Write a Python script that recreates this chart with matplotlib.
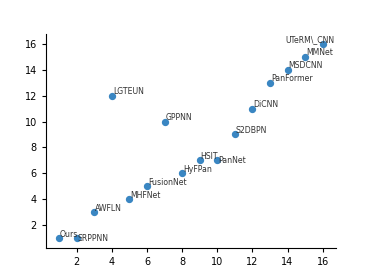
import matplotlib
matplotlib.use("Agg")
import matplotlib.pyplot as plt

names = ["Ours", "SRPPNN", "AWFLN", "LGTEUN", "MHFNet", "FusionNet", "GPPNN",
         "HyFPan", "HSIT", "PanNet", "S2DBPN", "DiCNN", "PanFormer", "MSDCNN",
         "MMNet", "UTeRM\\_CNN"]
xs = [1, 2, 3, 4, 5, 6, 7, 8, 9, 10, 11, 12, 13, 14, 15, 16]
ys = [1, 1, 3, 12, 4, 5, 10, 6, 7, 7, 9, 11, 13, 14, 15, 16]


def plot_scatter(filename="out.png"):
    fig = plt.figure(figsize=(3.74, 2.8), dpi=100)
    ax = fig.add_axes([0.123, 0.114, 0.775, 0.765])
    ax.scatter(xs, ys, color="#3a86c2", s=18, zorder=3)

    # a few labels are nudged so they don't collide
    nudge = {"SRPPNN": (0.05, -0.05, "center"),
             "PanNet": (0.05, 0.0, "center"),
             "UTeRM\\_CNN": (-2.15, 0.1, "baseline")}

    for name, x, y in zip(names, xs, ys):
        dx, dy, va = nudge.get(name, (0.05, 0.1, "baseline"))
        ax.text(x + dx, y + dy, name, fontsize=5.6, color="#333333", va=va)

    ax.set_xticks([2, 4, 6, 8, 10, 12, 14, 16])
    ax.set_yticks([2, 4, 6, 8, 10, 12, 14, 16])
    ax.tick_params(labelsize=7, length=3)
    ax.spines["top"].set_visible(False)
    ax.spines["right"].set_visible(False)

    fig.savefig(filename, dpi=100)


if __name__ == "__main__":
    plot_scatter()
